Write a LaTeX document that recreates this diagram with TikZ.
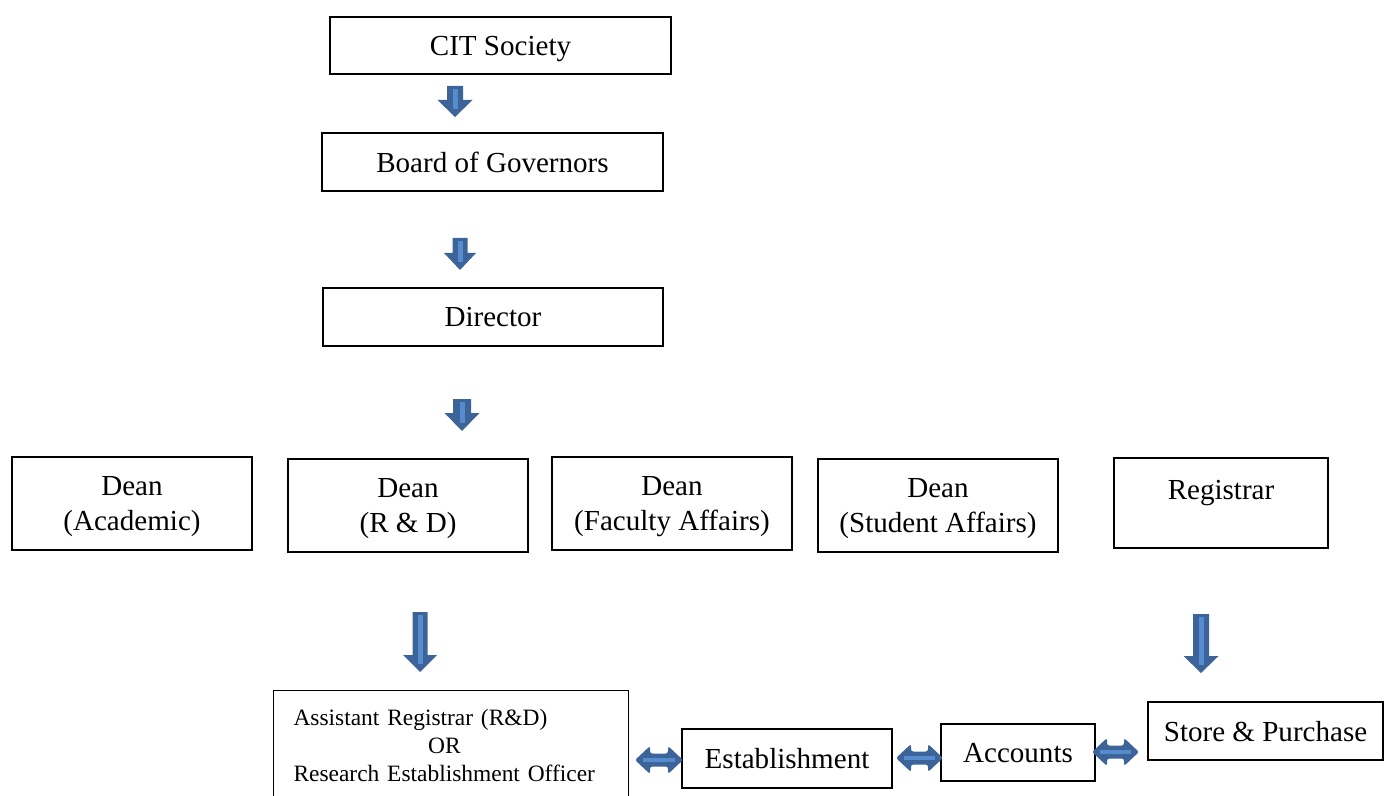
\documentclass[tikz,border=0pt]{standalone}
\usepackage{fontspec}
\setmainfont{Liberation Serif}
\usepackage{tikz}
\definecolor{arrowdark}{RGB}{60,100,152}
\definecolor{arrowlight}{RGB}{86,140,206}
\newcommand{\px}{0.015cm}
% block arrow pointing down: x, top, head start, tip, half shaft, half head
\newcommand{\downblock}[6]{%
\fill[arrowdark] (#1-#5,#2) -- (#1+#5,#2) -- (#1+#5,#3) -- (#1+#6,#3) -- (#1,#4) -- (#1-#6,#3) -- (#1-#5,#3) -- cycle;
\draw[arrowlight,line width=5*\px] (#1,#2+3) -- (#1,#4-8);}
% block arrow with two heads: left x, right x, y
\newcommand{\sideblock}[3]{%
\fill[arrowdark,rounded corners=1pt] (#1,#3) -- (#1+15,#3-14) -- (#1+15,#3-6.5) -- (#2-15,#3-6.5) -- (#2-15,#3-14) -- (#2,#3) -- (#2-15,#3+14) -- (#2-15,#3+6.5) -- (#1+15,#3+6.5) -- (#1+15,#3+14) -- cycle;
\draw[arrowlight,line width=4*\px] (#1+8,#3) -- (#2-8,#3);}

\begin{document}
\begin{tikzpicture}[x=\px,y=-\px,
box/.style={draw,line width=0.45pt,inner sep=0pt,align=center,font=\fontsize{12.4}{14.9}\selectfont},
lbox/.style={box,text depth=0pt},
dean/.style={lbox,minimum width=240*\px,minimum height=93*\px}]
\useasboundingbox (0,0) rectangle (1389,796);
\clip (0,0) rectangle (1389,796);
\node[lbox,minimum width=341*\px,minimum height=57*\px] (cit) at (500.5,45.5) {CIT Society};
\node[lbox,minimum width=341*\px,minimum height=58*\px] (bog) at (492.5,162) {Board of Governors};
\node[lbox,minimum width=340*\px,minimum height=58*\px] (dir) at (493,317) {Director};
\node[dean] (acad) at (132,503.5) {Dean\\(Academic)};
\node[dean] (rnd) at (408,505.5) {Dean\\(R \& D)};
\node[dean] (fac) at (672,503.5) {Dean\\(Faculty Affairs)};
\node[dean] (stu) at (938,505.5) {Dean\\(Student Affairs)};
\node[box,text depth=11pt,minimum width=214*\px,minimum height=90*\px] (reg) at (1221,503) {Registrar};
\node[box,anchor=north west,align=left,text width=315*\px,inner xsep=20*\px,minimum height=110*\px,
  font=\fontsize{10}{11.9}\selectfont] (asst) at (273,690)
  {Assistant Registrar (R\&D)\\\hspace*{2.02cm}OR\\Research Establishment Officer};
\node[lbox,minimum width=210*\px,minimum height=59*\px] (est) at (787,758.5) {Establishment};
\node[lbox,minimum width=154*\px,minimum height=57*\px] (acc) at (1018,752.5) {Accounts};
\node[lbox,minimum width=235*\px,minimum height=58*\px] (store) at (1265.5,731) {Store \& Purchase};

\downblock{455}{86}{100}{117}{8}{17.5}
\downblock{460}{238}{253}{270}{7.5}{16}
\downblock{462}{399}{413}{431}{9}{17.5}
\downblock{420}{612}{655}{672}{7.5}{17}
\downblock{1201}{614}{656}{673}{8}{17.5}
\sideblock{635}{683}{760}
\sideblock{896}{943}{758}
\sideblock{1092}{1139}{752}
\end{tikzpicture}
\end{document}
